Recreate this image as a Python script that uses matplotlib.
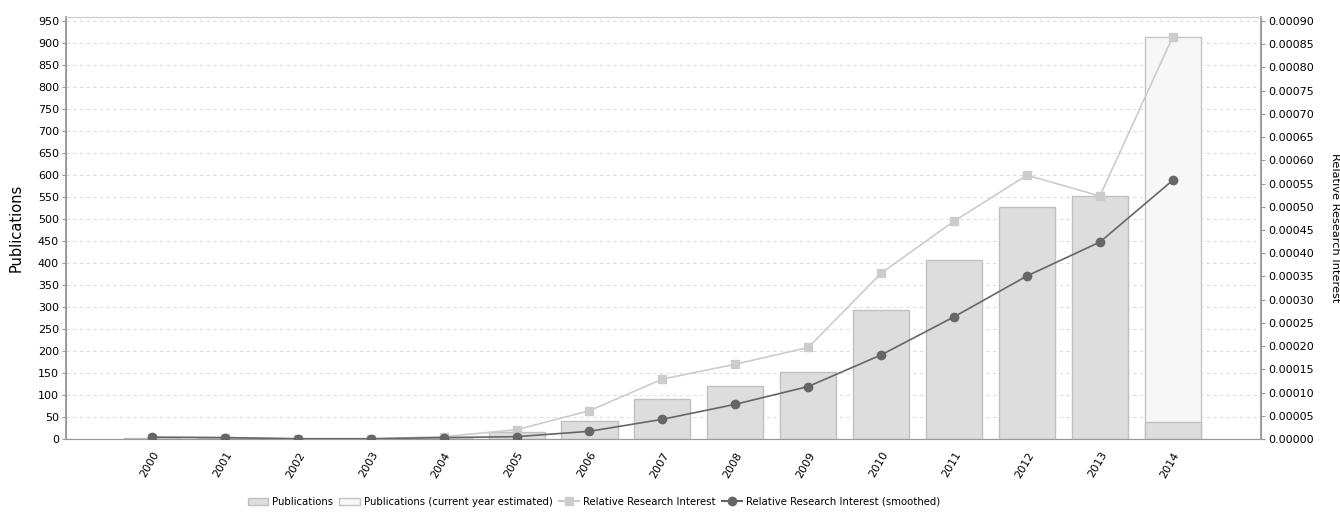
import numpy as np
import matplotlib.pyplot as plt
from matplotlib.patches import Patch
from matplotlib.lines import Line2D

years = ['2000', '2001', '2002', '2003', '2004', '2005', '2006', '2007',
         '2008', '2009', '2010', '2011', '2012', '2013', '2014']
publications = [3, 2, 1, 1, 4, 16, 41, 91, 120, 152, 293, 407, 527, 552, 39]
estimated_2014 = 913
rri = [0.000003, 0.000003, 0.0000005, 0.0000005, 0.000005, 0.00002, 0.000061,
       0.000129, 0.000161, 0.000197, 0.000357, 0.000469, 0.000568, 0.000523,
       0.000866]
rri_smooth = [0.000004, 0.000003, 0.0000005, 0.0000005, 0.000003, 0.000005,
              0.0000166, 0.0000424, 0.0000747, 0.000113, 0.000181, 0.000263,
              0.000351, 0.000424, 0.000557]

x = np.arange(len(years))
tick_font = dict(family='DejaVu Sans', size=8)

fig = plt.figure(figsize=(13.4, 5.12), dpi=100)
ax = fig.add_axes([66 / 1340, 73 / 512, (1261 - 66) / 1340, (439 - 17) / 512])
ax2 = ax.twinx()

# barras: estimada para el año actual detrás, reales delante
ax.bar(x[-1], estimated_2014, width=0.77, color='#f7f7f7',
       edgecolor='#c4c4c4', linewidth=1, zorder=2)
ax.bar(x, publications, width=0.77, color='#dddddd',
       edgecolor='#c0c0c0', linewidth=1, zorder=3)

ax.set_xlim(-1.18, 15.21)
ax.set_ylim(0, 959)
ax.set_yticks(np.arange(0, 951, 50))
ax.set_yticklabels([str(v) for v in range(0, 951, 50)], **tick_font)
ax.set_xticks(x)
ax.set_xticklabels(years, rotation=60, ha='right', rotation_mode='anchor',
                   **tick_font)
ax.tick_params(axis='x', length=0, pad=8)
ax.tick_params(axis='y', length=3, color='#999999', pad=2)
ax.grid(axis='y', linestyle=(0, (3, 3)), color='#dddddd', linewidth=0.8,
        zorder=0)
ax.set_axisbelow(True)
ax.set_ylabel('Publications', fontsize=10.5, labelpad=10)

for side in ['left', 'bottom', 'right']:
    ax.spines[side].set_color('#999999')
    ax2.spines[side].set_color('#999999')
ax.spines['top'].set_color('#cccccc')
ax2.spines['top'].set_color('#cccccc')
ax.spines['left'].set_linewidth(1.3)
ax2.spines['right'].set_linewidth(1.3)

ax2.plot(x, rri, color='#cccccc', marker='s', markersize=6, linewidth=1.2,
         zorder=4)
ax2.plot(x, rri_smooth, color='#666666', marker='o', markersize=6,
         linewidth=1.2, zorder=5)
ax2.set_ylim(0, 0.0009 * 959 / 950)
ax2_ticks = np.arange(0, 0.00091, 0.00005)
ax2.set_yticks(ax2_ticks)
ax2.set_yticklabels([f'{v:.5f}' for v in ax2_ticks], **tick_font)
ax2.tick_params(axis='y', length=3, color='#999999', pad=2)
ax2.set_ylabel('Relative Research Interest', fontsize=8.2, rotation=-90,
               va='center')
ax2.yaxis.set_label_coords((1335 - 66) / 1195, (439 - 228) / 422)

handles = [
    Patch(facecolor='#dddddd', edgecolor='#c0c0c0', label='Publications'),
    Patch(facecolor='#f7f7f7', edgecolor='#c4c4c4',
          label='Publications (current year estimated)'),
    Line2D([], [], color='#cccccc', marker='s', markersize=6,
           label='Relative Research Interest'),
    Line2D([], [], color='#666666', marker='o', markersize=6,
           label='Relative Research Interest (smoothed)'),
]
fig.legend(handles=handles, loc='center', bbox_to_anchor=(594 / 1340, 10 / 512),
           ncol=4, frameon=False, fontsize=7.3, handlelength=2.0,
           handletextpad=0.4, columnspacing=0.6)

fig.savefig('out.png', dpi=100, facecolor='white')
